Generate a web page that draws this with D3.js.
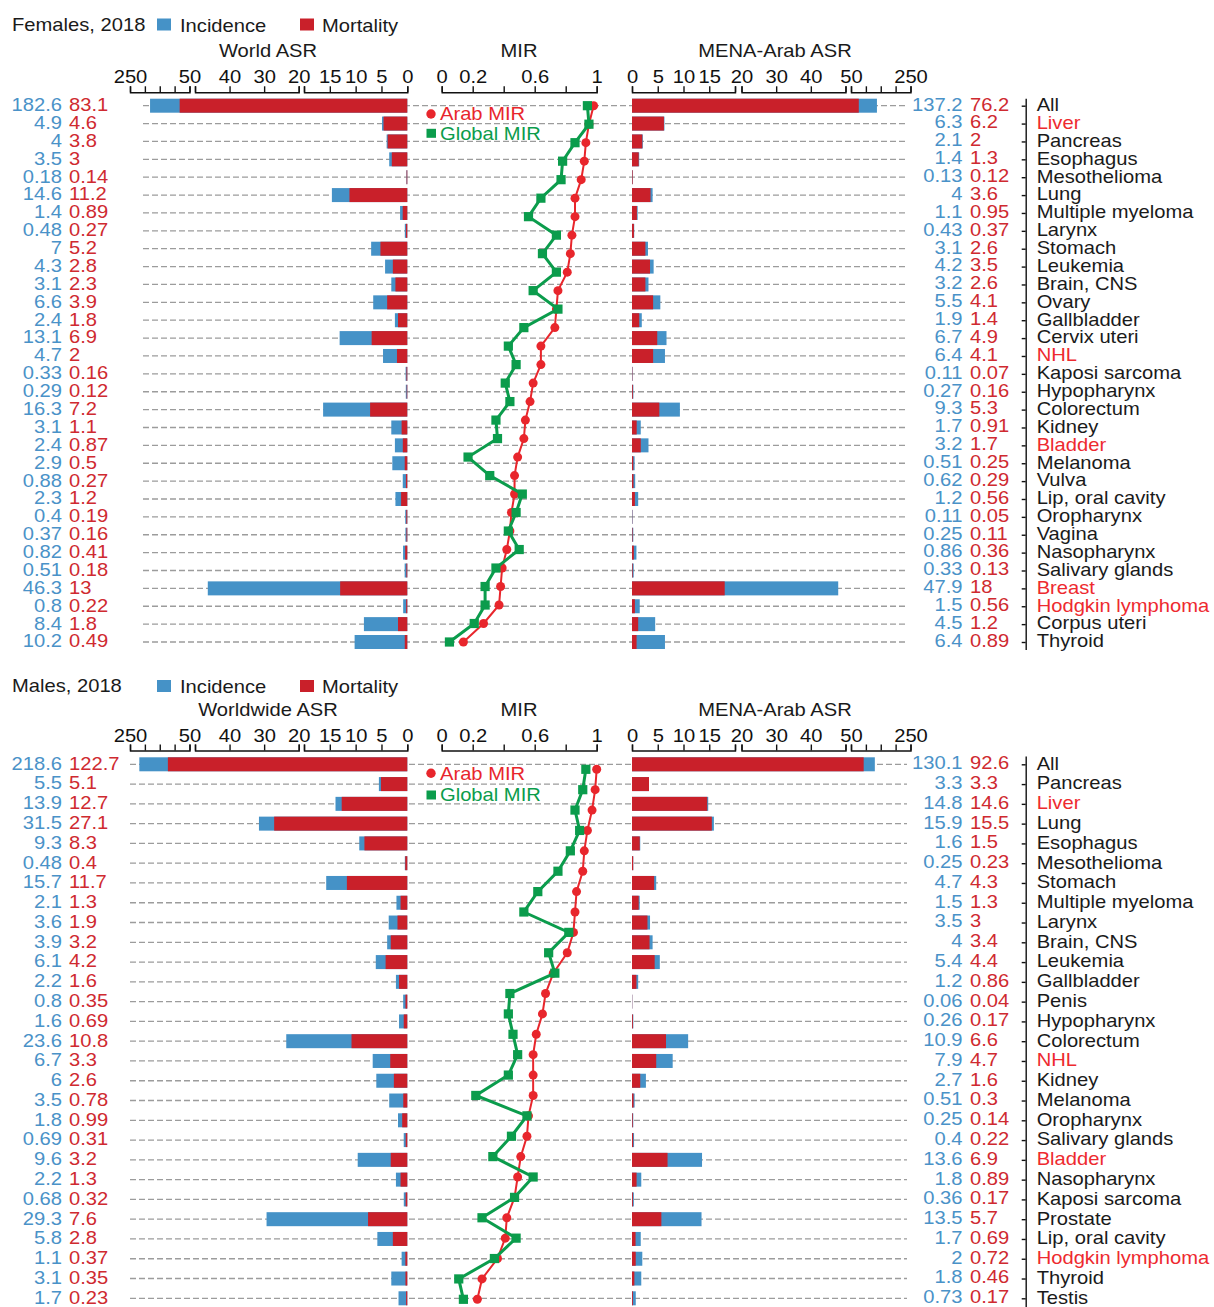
<!DOCTYPE html>
<html>
<head>
<meta charset="utf-8">
<script src="https://cdn.jsdelivr.net/npm/d3@7"></script>
<style>
  body { margin: 0; background: #fff; }
  svg text { font-family: "Liberation Sans", Arial, Helvetica, sans-serif; font-size: 18px; }
</style>
</head>
<body>
<svg id="chart" width="1214" height="1307"></svg>
<script>
// ---------- Females, 2018 ----------
const femaleSites = ["All","Liver","Pancreas","Esophagus","Mesothelioma","Lung","Multiple myeloma","Larynx","Stomach","Leukemia","Brain, CNS","Ovary","Gallbladder","Cervix uteri","NHL","Kaposi sarcoma","Hypopharynx","Colorectum","Kidney","Bladder","Melanoma","Vulva","Lip, oral cavity","Oropharynx","Vagina","Nasopharynx","Salivary glands","Breast","Hodgkin lymphoma","Corpus uteri","Thyroid"];
const femaleWorldInc  = [182.6,4.9,4,3.5,0.18,14.6,1.4,0.48,7,4.3,3.1,6.6,2.4,13.1,4.7,0.33,0.29,16.3,3.1,2.4,2.9,0.88,2.3,0.4,0.37,0.82,0.51,46.3,0.8,8.4,10.2];
const femaleWorldMort = [83.1,4.6,3.8,3,0.14,11.2,0.89,0.27,5.2,2.8,2.3,3.9,1.8,6.9,2,0.16,0.12,7.2,1.1,0.87,0.5,0.27,1.2,0.19,0.16,0.41,0.18,13,0.22,1.8,0.49];
const femaleArabInc   = [137.2,6.3,2.1,1.4,0.13,4,1.1,0.43,3.1,4.2,3.2,5.5,1.9,6.7,6.4,0.11,0.27,9.3,1.7,3.2,0.51,0.62,1.2,0.11,0.25,0.86,0.33,47.9,1.5,4.5,6.4];
const femaleArabMort  = [76.2,6.2,2,1.3,0.12,3.6,0.95,0.37,2.6,3.5,2.6,4.1,1.4,4.9,4.1,0.07,0.16,5.3,0.91,1.7,0.25,0.29,0.56,0.05,0.11,0.36,0.13,18,0.56,1.2,0.89];
// MIR series: one value per site, "All" excluded
const femaleArabMIR   = [0.98,0.95,0.93,0.92,0.90,0.86,0.86,0.84,0.83,0.81,0.75,0.74,0.73,0.64,0.64,0.59,0.57,0.54,0.53,0.49,0.47,0.47,0.45,0.44,0.42,0.39,0.38,0.37,0.27,0.14];
const femaleGlobalMIR = [0.94,0.95,0.86,0.78,0.77,0.64,0.56,0.74,0.65,0.74,0.59,0.75,0.53,0.43,0.48,0.41,0.44,0.35,0.36,0.17,0.31,0.52,0.48,0.43,0.50,0.35,0.28,0.28,0.21,0.05];
const femaleHighlight = ["Liver","NHL","Bladder","Breast","Hodgkin lymphoma"];

// ---------- Males, 2018 ----------
const maleSites = ["All","Pancreas","Liver","Lung","Esophagus","Mesothelioma","Stomach","Multiple myeloma","Larynx","Brain, CNS","Leukemia","Gallbladder","Penis","Hypopharynx","Colorectum","NHL","Kidney","Melanoma","Oropharynx","Salivary glands","Bladder","Nasopharynx","Kaposi sarcoma","Prostate","Lip, oral cavity","Hodgkin lymphoma","Thyroid","Testis"];
const maleWorldInc  = [218.6,5.5,13.9,31.5,9.3,0.48,15.7,2.1,3.6,3.9,6.1,2.2,0.8,1.6,23.6,6.7,6,3.5,1.8,0.69,9.6,2.2,0.68,29.3,5.8,1.1,3.1,1.7];
const maleWorldMort = [122.7,5.1,12.7,27.1,8.3,0.4,11.7,1.3,1.9,3.2,4.2,1.6,0.35,0.69,10.8,3.3,2.6,0.78,0.99,0.31,3.2,1.3,0.32,7.6,2.8,0.37,0.35,0.23];
const maleArabInc   = [130.1,3.3,14.8,15.9,1.6,0.25,4.7,1.5,3.5,4,5.4,1.2,0.06,0.26,10.9,7.9,2.7,0.51,0.25,0.4,13.6,1.8,0.36,13.5,1.7,2,1.8,0.73];
const maleArabMort  = [92.6,3.3,14.6,15.5,1.5,0.23,4.3,1.3,3,3.4,4.4,0.86,0.04,0.17,6.6,4.7,1.6,0.3,0.14,0.22,6.9,0.89,0.17,5.7,0.69,0.72,0.46,0.17];
const maleArabMIR   = [1.00,0.99,0.97,0.94,0.92,0.91,0.87,0.86,0.85,0.81,0.72,0.67,0.65,0.61,0.59,0.59,0.59,0.56,0.55,0.51,0.49,0.47,0.42,0.41,0.36,0.26,0.23];
const maleGlobalMIR = [0.93,0.91,0.86,0.89,0.83,0.75,0.62,0.53,0.82,0.69,0.73,0.44,0.43,0.46,0.49,0.43,0.22,0.55,0.45,0.33,0.59,0.47,0.26,0.48,0.34,0.11,0.14];
const maleHighlight = ["Liver","NHL","Bladder","Hodgkin lymphoma"];

// ---------- Axis definitions ----------
// ASR axes are broken into three linear pieces
const asrSegments   = [[0, 20], [20, 50], [50, 250]];
const asrSegTicks   = [[0, 5, 10, 15, 20], [20, 30, 40, 50], [50, 100, 150, 200, 250]];
const asrSegLabels  = [[0, 5, 10, 15], [20, 30, 40], [50, 250]];
const mirTicks      = [0, 0.2, 0.4, 0.6, 0.8, 1];
const mirTickLabels = [0, 0.2, 0.6, 1];

const COL = {
  incBar: "#4592c7", mortBar: "#c9202a",
  incText: "#4a92c8", mortText: "#cf2a30",
  hiText: "#ee2a2f", text: "#1a1a1a",
  arab: "#e8262c", global: "#0b9c4c", grid: "#9c9c9c"
};
const SX = 1.12;          // horizontal stretch of all lettering
const barH = 14;

const svg = d3.select("#chart");

function brokenScale(ranges) {
  const segs = asrSegments.map((d, i) => d3.scaleLinear().domain(d).range(ranges[i]));
  const f = v => v <= asrSegments[0][1] ? segs[0](v) : v <= asrSegments[1][1] ? segs[1](v) : segs[2](v);
  f.segs = segs;
  return f;
}
const xWorld = brokenScale([[407.3, 304], [298.7, 195], [189.5, 130]]);
const xArab  = brokenScale([[632, 735], [741.5, 845.5], [851, 910.5]]);
const xMIR   = d3.scaleLinear().domain([0, 1]).range([441.7, 596.7]);

function text(g, x, y, str, anchor, fill) {
  return g.append("text")
    .attr("transform", `translate(${x},${y}) scale(${SX},1)`)
    .attr("text-anchor", anchor || "start")
    .attr("fill", fill || COL.text)
    .text(str);
}

function styleAxis(g) {
  g.attr("color", "#111");
  g.selectAll("path, line").attr("stroke-width", 1.4);
  g.selectAll(".tick text").attr("transform", `scale(${SX},1)`);
}

function asrAxis(g, scale, y) {
  scale.segs.forEach((s, i) => {
    const ax = g.append("g").attr("transform", `translate(0,${y})`)
      .call(d3.axisTop(s).tickValues(asrSegTicks[i]).tickSize(6).tickPadding(3)
        .tickFormat(d => asrSegLabels[i].includes(d) ? String(d) : ""));
    styleAxis(ax);
  });
}

function drawPanel(p) {
  const L = p.layout;
  const g = svg.append("g");
  const sites = p.sites;

  // header + legend
  text(g, 12, L.titleBase, p.title);
  g.append("rect").attr("x", 157).attr("y", L.legendTop).attr("width", 14).attr("height", 12).attr("fill", COL.incBar);
  text(g, 180, L.legendBase, "Incidence");
  g.append("rect").attr("x", 300).attr("y", L.legendTop).attr("width", 14).attr("height", 12).attr("fill", COL.mortBar);
  text(g, 322, L.legendBase, "Mortality");

  // panel titles
  text(g, 268, L.axisTitleBase, p.worldTitle, "middle");
  text(g, 519, L.axisTitleBase, "MIR", "middle");
  text(g, 775, L.axisTitleBase, "MENA-Arab ASR", "middle");

  // axes
  asrAxis(g, xWorld, L.axisY);
  asrAxis(g, xArab, L.axisY);
  const mAx = g.append("g").attr("transform", `translate(0,${L.axisY})`)
    .call(d3.axisTop(xMIR).tickValues(mirTicks).tickSize(6).tickPadding(3)
      .tickFormat(d => mirTickLabels.includes(d) ? d3.format("~g")(d) : ""));
  styleAxis(mAx);

  // rows
  const y = d3.scalePoint().domain(sites).range([L.rowTop, L.rowBottom]);

  g.append("g").selectAll("line").data(sites).join("line")
    .attr("x1", L.gridX0).attr("x2", 907)
    .attr("y1", d => y(d)).attr("y2", d => y(d))
    .attr("stroke", COL.grid).attr("stroke-width", 1.3).attr("stroke-dasharray", "6,3");

  function bars(x, inc, mort) {
    [[inc, COL.incBar], [mort, COL.mortBar]].forEach(([vals, col]) => {
      g.append("g").selectAll("rect").data(vals).join("rect")
        .attr("x", v => Math.min(x(0), x(v)))
        .attr("width", v => Math.abs(x(v) - x(0)))
        .attr("y", (v, i) => y(sites[i]) - barH / 2)
        .attr("height", barH)
        .attr("fill", col);
    });
  }
  bars(xWorld, p.wInc, p.wMort);
  bars(xArab, p.aInc, p.aMort);

  // value labels
  function values(vals, x, anchor, fill, dy) {
    g.append("g").selectAll("text").data(vals).join("text")
      .attr("transform", (v, i) => `translate(${x},${y(sites[i])}) scale(${SX},1)`)
      .attr("dy", dy).attr("text-anchor", anchor).attr("fill", fill)
      .text(v => String(v));
  }
  values(p.wInc, 62, "end", COL.incText, "0.3em");
  values(p.wMort, 69, "start", COL.mortText, "0.3em");
  values(p.aInc, 962.5, "end", COL.incText, "0.27em");
  values(p.aMort, 970, "start", COL.mortText, "0.27em");

  // site bracket on the right
  const step = y.step();
  const yAxis = d3.scalePoint().domain(sites).padding(0.42)
    .range([L.rowTop - 0.42 * step, L.rowBottom + 0.42 * step]);
  const sAx = g.append("g").attr("transform", "translate(1025.7,0)")
    .call(d3.axisRight(yAxis).tickSizeInner(-4).tickSizeOuter(0).tickPadding(9.8));
  styleAxis(sAx);
  sAx.selectAll(".tick text")
    .attr("dy", "0.27em")
    .attr("fill", d => p.highlight.includes(d) ? COL.hiText : COL.text);

  // MIR lines (sites after "All")
  const mirSites = sites.slice(1);
  const ym = d3.scalePoint().domain(mirSites).range([L.mirTop, L.mirBottom]);
  const arab = p.aMIR.map((v, i) => ({ s: mirSites[i], v }));
  const glob = p.gMIR.map((v, i) => ({ s: mirSites[i], v }));
  const line = d3.line().x(d => xMIR(d.v)).y(d => ym(d.s));

  g.append("path").datum(arab).attr("d", line).attr("fill", "none")
    .attr("stroke", COL.arab).attr("stroke-width", 2);
  g.append("g").selectAll("circle").data(arab).join("circle")
    .attr("cx", d => xMIR(d.v)).attr("cy", d => ym(d.s)).attr("r", 4.5).attr("fill", COL.arab);

  g.append("path").datum(glob).attr("d", line).attr("fill", "none")
    .attr("stroke", COL.global).attr("stroke-width", 3);
  g.append("g").selectAll("rect").data(glob).join("rect")
    .attr("x", d => xMIR(d.v) - 4.6).attr("y", d => ym(d.s) - 4.6)
    .attr("width", 9.2).attr("height", 9.2).attr("fill", COL.global);

  // MIR legend
  g.append("circle").attr("cx", 431).attr("cy", L.mirLegend[0]).attr("r", 4.7).attr("fill", COL.arab);
  text(g, 440, L.mirLegend[0], "Arab MIR", "start", COL.arab).attr("dy", "0.35em");
  g.append("rect").attr("x", 426.5).attr("y", L.mirLegend[1] - 4.5).attr("width", 9.5).attr("height", 9).attr("fill", COL.global);
  text(g, 440, L.mirLegend[1], "Global MIR", "start", COL.global).attr("dy", "0.35em");
}

drawPanel({
  title: "Females, 2018", worldTitle: "World ASR", sites: femaleSites,
  wInc: femaleWorldInc, wMort: femaleWorldMort, aInc: femaleArabInc, aMort: femaleArabMort,
  aMIR: femaleArabMIR, gMIR: femaleGlobalMIR, highlight: femaleHighlight,
  layout: { titleBase: 30.5, legendTop: 18.5, legendBase: 31.5, axisTitleBase: 57, axisY: 92.3,
            rowTop: 105.7, rowBottom: 642, mirTop: 105.7, mirBottom: 642, gridX0: 143, mirLegend: [114, 133.3] }
});

drawPanel({
  title: "Males, 2018", worldTitle: "Worldwide ASR", sites: maleSites,
  wInc: maleWorldInc, wMort: maleWorldMort, aInc: maleArabInc, aMort: maleArabMort,
  aMIR: maleArabMIR, gMIR: maleGlobalMIR, highlight: maleHighlight,
  layout: { titleBase: 691.5, legendTop: 680, legendBase: 693, axisTitleBase: 716, axisY: 750.5,
            rowTop: 764.3, rowBottom: 1298.3, mirTop: 769.3, mirBottom: 1299.3, gridX0: 130, mirLegend: [773.3, 795] }
});
</script>
</body>
</html>
